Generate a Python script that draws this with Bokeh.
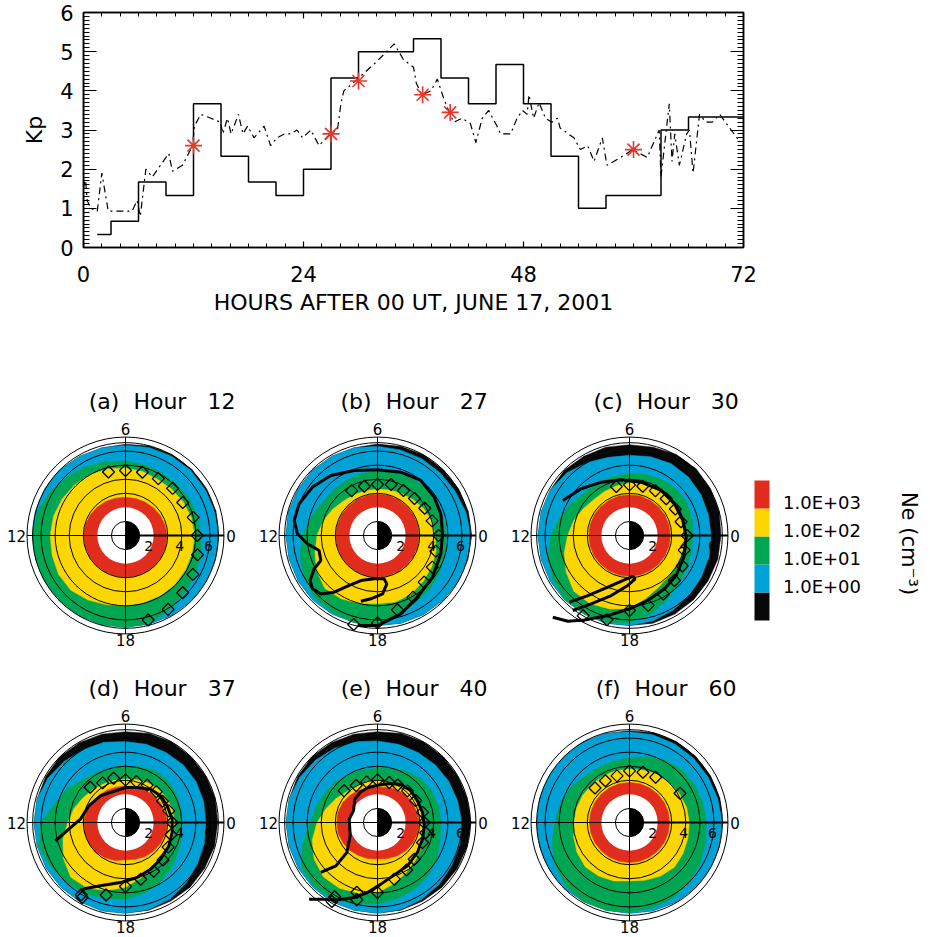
import numpy as np
from bokeh.plotting import figure
from bokeh.models import Range1d, LinearAxis, SingleIntervalTicker
from bokeh.layouts import column, row
from bokeh.embed import file_html
from bokeh.resources import INLINE
from bokeh.core.properties import value

FONT = "DejaVu Sans"
RED = "#e12d1e"
YELLOW = "#fcd600"
GREEN = "#00a651"
BLUE = "#00a2d6"
BLACK = "#080808"
STAR_RED = "#e8372a"

# ---------------- top panel data ----------------
kp_start_hours = [1.5, 3, 6, 9, 12, 15, 18, 21, 24, 27, 30, 33, 36, 39, 42, 45, 48, 51, 54, 57, 60, 63, 66, 69]
kp_end_hours = [3, 6, 9, 12, 15, 18, 21, 24, 27, 30, 33, 36, 39, 42, 45, 48, 51, 54, 57, 60, 63, 66, 69, 72]
kp_values = [0.33, 0.67, 1.67, 1.33, 3.67, 2.33, 1.67, 1.33, 2.0, 4.33, 5.0, 5.0,
             5.33, 4.33, 3.67, 4.67, 3.67, 2.33, 1.0, 1.33, 1.33, 3.0, 3.33, 3.33]

model_hours = [0.0, 0.2, 0.4, 0.8, 1.5, 2.0, 2.7, 3.5, 5.3, 5.85, 6.2, 6.8, 7.5, 8.4, 9.3, 9.7,
               10.8, 11.9, 12.1, 12.8, 13.9, 14.95, 15.2, 15.7, 16.1, 16.9, 17.4, 17.9, 18.6,
               19.7, 20.4, 21.1, 21.9, 22.6, 23.3, 23.9, 24.8, 25.7, 26.9, 27.7, 28.1, 28.4,
               29.9, 32.0, 33.9, 34.9, 36.0, 36.3, 36.9, 37.9, 38.6, 39.3, 40.0, 40.4, 41.3,
               42.2, 42.8, 43.5, 44.2, 45.1, 45.5, 46.6, 47.3, 47.9, 48.4, 48.6, 49.1, 49.7,
               50.4, 51.1, 51.7, 52.0, 53.5, 54.2, 55.0, 55.7, 56.6, 57.1, 58.6, 59.9, 61.5,
               62.8, 63.0, 63.9, 64.2, 64.5, 65.0, 65.8, 66.1, 66.5, 67.2, 67.9, 68.6, 69.4,
               70.5, 71.6]
model_kp = [1.5, 1.8, 1.2, 1.0, 0.93, 1.9, 0.93, 0.93, 0.93, 1.2, 0.8, 2.0, 1.8, 2.1, 2.4, 1.95,
            2.1, 2.6, 3.1, 3.4, 3.3, 3.2, 2.9, 3.3, 2.9, 3.4, 2.9, 3.1, 2.8,
            3.1, 2.6, 2.8, 2.9, 2.9, 3.0, 2.8, 3.0, 2.6, 2.9, 3.0, 3.7, 4.0,
            4.3, 4.75, 5.2, 4.8, 4.6, 4.2, 3.9, 4.0, 4.3, 3.8, 3.4, 3.2, 3.3,
            3.17, 2.68, 3.3, 3.5, 3.1, 2.9, 2.9, 3.3, 3.5, 3.4, 3.9, 3.3, 3.7,
            3.3, 3.2, 3.3, 3.05, 2.8, 2.5, 2.6, 2.2, 2.8, 2.1, 2.3, 2.5, 2.3,
            3.0, 1.8, 3.67, 2.2, 2.9, 2.1, 2.9, 3.0, 1.9, 3.4, 3.2, 3.2, 3.4,
            3.05, 2.7]

star_hours = [12, 27, 30, 37, 40, 60]
star_kp = [2.6, 2.9, 4.25, 3.9, 3.45, 2.5]

# ---------------- polar panel data (L at MLT 0..23) ----------------
MLT_GRID = list(range(24))

a_red = [2.95, 2.9, 2.85, 2.8, 2.75, 2.72, 2.72, 2.75, 2.8, 2.85, 2.9, 2.95, 2.97, 2.97, 2.97, 2.97, 2.97, 2.97, 2.97, 2.97, 2.97, 2.97, 2.97, 2.95]
a_yellow = [4.9, 4.85, 4.75, 4.65, 4.6, 4.7, 4.8, 4.9, 5.0, 5.1, 5.2, 5.3, 5.35, 5.4, 5.5, 5.5, 5.3, 5.1, 5.0, 4.95, 4.95, 4.95, 4.92, 4.9]
a_green = [5.35, 5.3, 5.25, 5.15, 5.15, 5.2, 5.3, 5.45, 5.65, 5.9, 6.2, 6.5, 6.6, 6.6, 6.6, 6.6, 6.58, 6.55, 6.52, 6.45, 6.15, 5.85, 5.7, 5.55]
a_blue = [6.6, 6.58, 6.55, 6.55, 6.52, 6.48, 6.42, 6.45, 6.5, 6.6, 6.62, 6.62, 6.62, 6.6, 6.6, 6.6, 6.58, 6.55, 6.52, 6.52, 6.55, 6.58, 6.6, 6.6]
a_edge = [6.62, 6.66, 6.66, 6.66, 6.64, 6.58, 6.48, 6.45, 6.5, 6.6, 6.62, 6.62, 6.62, 6.6, 6.6, 6.6, 6.58, 6.55, 6.52, 6.52, 6.55, 6.58, 6.6, 6.62]

b_red = [2.95, 2.95, 2.95, 2.95, 2.95, 2.95, 2.95, 2.95, 2.95, 2.95, 2.95, 2.95, 2.97, 2.97, 2.97, 2.97, 2.97, 2.97, 2.97, 2.95, 2.95, 2.95, 2.95, 2.95]
b_yellow = [4.1, 4.0, 3.8, 3.6, 3.45, 3.35, 3.3, 3.3, 3.35, 3.45, 3.7, 4.0, 4.3, 4.6, 5.0, 5.3, 5.2, 5.0, 4.85, 4.9, 4.8, 4.6, 4.45, 4.3]
b_green = [4.9, 4.85, 4.8, 4.8, 4.75, 4.65, 4.6, 4.55, 4.5, 4.5, 4.6, 4.9, 5.35, 5.7, 6.0, 6.3, 6.35, 6.4, 6.4, 5.8, 5.5, 5.3, 5.1, 5.0]
b_blue = [6.65, 6.5, 6.35, 6.3, 6.3, 6.3, 6.35, 6.45, 6.5, 6.55, 6.55, 6.55, 6.5, 6.5, 6.5, 6.5, 6.45, 6.4, 6.4, 6.45, 6.5, 6.55, 6.6, 6.62]
b_edge = [6.7, 6.68, 6.65, 6.62, 6.6, 6.55, 6.5, 6.45, 6.5, 6.55, 6.55, 6.55, 6.5, 6.5, 6.5, 6.5, 6.45, 6.4, 6.4, 6.45, 6.5, 6.55, 6.6, 6.65]

c_red = [2.9] * 24
c_yellow = [3.95, 3.95, 3.95, 3.9, 3.85, 3.8, 3.75, 3.65, 3.6, 3.6, 3.8, 4.1, 4.4, 4.8, 5.2, 5.6, 5.6, 5.4, 5.2, 4.6, 4.2, 4.0, 3.95, 3.95]
c_green = [4.5, 4.6, 4.7, 4.7, 4.6, 4.5, 4.4, 4.35, 4.35, 4.4, 4.7, 5.1, 5.6, 6.0, 6.3, 6.45, 6.45, 6.4, 6.2, 5.8, 5.3, 4.9, 4.7, 4.55]
c_blue = [5.8, 5.8, 5.85, 5.9, 5.9, 5.8, 5.7, 5.75, 6.0, 6.3, 6.5, 6.5, 6.5, 6.5, 6.5, 6.5, 6.45, 6.45, 6.4, 6.3, 6.15, 6.0, 5.9, 5.85]
c_edge = [6.5, 6.6, 6.65, 6.7, 6.65, 6.5, 6.45, 6.5, 6.5, 6.55, 6.5, 6.5, 6.5, 6.5, 6.5, 6.5, 6.45, 6.45, 6.4, 6.45, 6.45, 6.45, 6.45, 6.5]

d_red = [2.95, 2.9, 2.85, 2.75, 2.7, 2.65, 2.6, 2.6, 2.65, 2.7, 2.8, 2.9, 2.95, 3.0, 3.0, 3.0, 2.9, 2.8, 2.65, 2.7, 2.8, 2.85, 2.9, 2.95]
d_yellow = [3.5, 3.45, 3.4, 3.35, 3.25, 3.15, 3.1, 3.1, 3.15, 3.3, 3.5, 3.8, 4.1, 4.6, 5.1, 5.5, 5.4, 5.0, 4.6, 4.1, 3.8, 3.6, 3.55, 3.5]
d_green = [4.0, 4.05, 4.15, 4.25, 4.25, 4.1, 4.0, 4.0, 4.1, 4.3, 4.8, 5.2, 6.0, 6.4, 6.2, 6.0, 5.8, 5.6, 5.45, 5.2, 4.9, 4.6, 4.3, 4.1]
d_blue = [5.7, 5.75, 5.8, 5.8, 5.75, 5.75, 5.75, 5.9, 6.0, 6.15, 6.35, 6.5, 6.5, 6.5, 6.5, 6.5, 6.5, 6.5, 6.45, 6.4, 6.3, 6.1, 5.9, 5.8]
d_edge = [6.55, 6.6, 6.6, 6.6, 6.6, 6.55, 6.45, 6.5, 6.55, 6.6, 6.55, 6.5, 6.5, 6.5, 6.5, 6.5, 6.5, 6.5, 6.45, 6.45, 6.45, 6.5, 6.5, 6.55]

e_red = [2.95, 2.9, 2.85, 2.8, 2.7, 2.6, 2.5, 2.55, 2.65, 2.75, 2.85, 2.9, 2.9, 2.9, 2.85, 2.8, 2.7, 2.65, 2.6, 2.65, 2.75, 2.85, 2.9, 2.95]
e_yellow = [3.3, 3.3, 3.25, 3.2, 3.1, 3.0, 3.0, 3.0, 3.0, 3.1, 3.4, 3.8, 4.3, 4.8, 5.2, 5.45, 5.4, 5.2, 5.0, 4.5, 4.1, 3.8, 3.6, 3.4]
e_green = [4.5, 4.5, 4.45, 4.4, 4.2, 4.0, 3.85, 3.9, 4.0, 4.15, 4.3, 4.5, 4.8, 5.5, 6.3, 6.4, 6.3, 6.0, 5.8, 5.6, 5.4, 5.2, 4.9, 4.6]
e_blue = [6.0, 5.9, 5.85, 5.8, 5.75, 5.75, 5.8, 5.95, 6.1, 6.25, 6.4, 6.5, 6.5, 6.5, 6.5, 6.5, 6.5, 6.45, 6.45, 6.4, 6.3, 6.2, 6.1, 6.05]
e_edge = [6.65, 6.6, 6.6, 6.6, 6.6, 6.55, 6.45, 6.5, 6.55, 6.6, 6.55, 6.5, 6.5, 6.5, 6.5, 6.5, 6.5, 6.45, 6.45, 6.45, 6.45, 6.5, 6.55, 6.6]

f_red = [2.85] * 24
f_yellow = [4.25, 4.2, 4.1, 4.0, 3.95, 3.85, 3.8, 3.8, 3.8, 3.8, 3.85, 3.9, 3.95, 4.1, 4.3, 4.45, 4.4, 4.3, 4.15, 4.25, 4.4, 4.5, 4.4, 4.3]
f_green = [5.45, 5.4, 5.35, 5.3, 5.1, 4.85, 4.6, 4.5, 4.5, 4.6, 4.9, 5.1, 5.3, 5.7, 6.1, 6.4, 6.5, 6.45, 6.4, 6.3, 6.2, 6.0, 5.8, 5.6]
f_blue = [6.6, 6.5, 6.45, 6.45, 6.45, 6.45, 6.45, 6.55, 6.6, 6.6, 6.6, 6.6, 6.6, 6.6, 6.6, 6.6, 6.5, 6.45, 6.45, 6.5, 6.55, 6.6, 6.6, 6.6]
f_edge = [6.62, 6.65, 6.65, 6.65, 6.65, 6.6, 6.52, 6.55, 6.6, 6.6, 6.6, 6.6, 6.6, 6.6, 6.6, 6.6, 6.5, 6.45, 6.45, 6.5, 6.55, 6.6, 6.6, 6.62]

# observed plasmapause (diamonds): MLT, L
a_dia_mlt = [7, 6, 5, 4, 3, 2, 1, 0, 23, 22, 21, 20, 19]
a_dia_L = [4.67, 4.62, 4.65, 4.67, 4.74, 4.7, 4.98, 5.1, 5.3, 5.53, 5.75, 6.06, 6.22]
b_dia_mlt = [8, 7, 6, 5, 4, 3, 2, 1, 0, 23, 22, 21, 20, 19, 18, 17]
b_dia_L = [3.68, 3.62, 3.63, 3.75, 3.69, 3.72, 3.88, 4.02, 4.34, 4.29, 4.5, 4.69, 5.06, 5.47, 6.21, 6.55]
c_dia_mlt = [7, 6, 5, 4, 3, 2, 1, 0, 23, 22, 21, 20, 19, 18, 17, 16]
c_dia_L = [3.61, 3.6, 3.63, 3.68, 3.69, 3.76, 3.79, 4.1, 4.02, 4.33, 4.52, 4.81, 5.14, 5.33, 6.2, 6.58]
d_dia_mlt = [9, 8, 7, 6, 5, 4, 3, 2, 1, 0, 23, 22, 21, 20, 19, 18, 17, 16, 15.9]
d_dia_L = [3.55, 3.25, 3.26, 3.03, 3.01, 3.07, 3.1, 3.03, 3.19, 3.32, 3.35, 3.5, 3.77, 4.0, 4.18, 4.55, 5.33, 6.16, 6.02]
e_dia_mlt = [9.1, 8, 7, 6, 4.9, 4.1, 3.1, 2, 0.85, 0, 23.2, 22.4, 21, 20.1, 19.1, 18, 16.9, 17, 16, 16]
e_dia_L = [3.27, 3.03, 2.99, 3.03, 2.96, 3.03, 3.1, 3.13, 3.28, 3.32, 3.5, 3.5, 3.69, 3.96, 4.2, 4.98, 5.17, 5.68, 6.09, 6.48]
f_dia_mlt = [9, 8, 7, 6, 5, 4, 2]
f_dia_L = [3.47, 3.43, 3.43, 3.67, 3.7, 3.72, 4.15]

# model plasmapause curves, X (Re, toward midnight), Y (Re, toward dawn)
b_curve_x = [-1.18, -0.47, 0.36, 0.66, 0.47, -0.24, -1.18, -2.01, -3.08, -4.03, -4.62, -4.79, -4.50, -4.03, -4.15, -4.98, -5.69, -5.92, -5.57, -4.62, -3.32, -1.66, 0.0, 1.66, 3.08, 4.03, 4.50, 4.62, 4.50, 3.91, 2.84, 1.66, 0.0, -1.42]
b_curve_y = [-4.67, -4.50, -4.15, -3.44, -3.08, -3.08, -3.20, -3.55, -4.03, -4.15, -3.79, -3.20, -2.37, -1.78, -1.07, -0.59, 0.12, 1.07, 2.25, 3.44, 4.27, 4.62, 4.67, 4.50, 3.91, 2.73, 1.54, 0.12, -1.30, -2.96, -4.38, -5.57, -6.40, -6.40]
c_curve1_x = [-4.74, -3.44, -2.01, -0.59, 0.83, 2.25, 3.20, 3.79, 4.03, 3.86, 3.32, 2.49, 1.30, 0.0, -1.54, -3.20, -4.38, -5.45]
c_curve1_y = [2.49, 3.32, 3.79, 3.96, 3.79, 3.20, 2.25, 1.07, -0.12, -1.54, -2.84, -3.79, -4.62, -5.21, -5.69, -6.00, -6.09, -5.81]
c_curve2_x = [-4.03, -2.73, -1.30, -0.12, 0.40, 0.24, -0.36, -1.54, -2.96, -4.27]
c_curve2_y = [-5.33, -4.86, -4.27, -3.55, -3.08, -2.91, -3.15, -3.67, -4.27, -4.74]
d_curve_x = [-4.98, -4.03, -3.20, -2.61, -1.78, -0.71, 0.0, 0.83, 1.78, 2.49, 2.96, 3.32, 3.32, 3.08, 2.49, 1.78, 0.83, -0.36, -1.78, -2.84, -3.20]
d_curve_y = [-1.30, -0.47, 0.24, 1.18, 1.90, 2.25, 2.49, 2.49, 2.37, 1.90, 1.18, 0.24, -0.71, -1.66, -2.61, -3.32, -3.91, -4.27, -4.50, -4.69, -4.86]
e_curve_x = [-4.03, -2.96, -2.18, -1.94, -2.01, -1.71, -1.61, -1.18, -0.66, 0.0, 0.83, 1.66, 2.37, 2.84, 3.20, 3.32, 3.20, 2.84, 2.13, 1.18, 0.24, -0.71, -1.66, -2.84, -3.91, -4.86]
e_curve_y = [-3.55, -3.08, -2.13, -0.95, 0.24, 0.83, 1.66, 2.18, 2.49, 2.65, 2.77, 2.70, 2.25, 1.54, 0.71, -0.24, -1.18, -2.13, -3.08, -3.74, -4.38, -4.98, -5.33, -5.50, -5.45, -5.45]

MODEL_INNER_L = 2.0
GRID_L = [1, 3, 4, 5, 6, 6.6, 7]
radial_labels = ["2", "4", "6"]
mlt_labels = ["6", "18", "12", "0"]
NB = "\u00a0"

cbar_colors = [BLACK, BLUE, GREEN, YELLOW, RED]
cbar_labels = ["1.0E+00", "1.0E+01", "1.0E+02", "1.0E+03"]

# ---------------- top figure ----------------
top = figure(width=930, height=370, x_range=Range1d(0, 72), y_range=Range1d(0, 6),
             output_backend="svg", toolbar_location=None,
             min_border_left=83, min_border_right=187, min_border_top=12, min_border_bottom=123)
top.grid.visible = False
top.outline_line_color = "black"
top.outline_line_width = 1.5

xt = SingleIntervalTicker(interval=24, num_minor_ticks=12)
yt = SingleIntervalTicker(interval=1, num_minor_ticks=10)


def style_x(ax, labels=True):
    ax.ticker = xt
    ax.axis_line_width = 1.5
    ax.axis_line_color = "black"
    ax.major_tick_line_color = "black"
    ax.minor_tick_line_color = "black"
    ax.major_tick_in = 6
    ax.major_tick_out = 0
    ax.minor_tick_in = 4
    ax.minor_tick_out = 0
    ax.major_tick_line_width = 1.2
    ax.major_label_text_font = FONT
    ax.major_label_text_font_size = "21px"
    ax.major_label_text_color = "black"
    if labels:
        ax.major_label_standoff = 18
    else:
        ax.major_label_overrides = {0: "", 24: "", 48: "", 72: ""}
        ax.major_label_standoff = 0


def style_y(ax, labels=True):
    ax.ticker = yt
    ax.axis_line_width = 1.5
    ax.axis_line_color = "black"
    ax.major_tick_line_color = "black"
    ax.minor_tick_line_color = "black"
    ax.major_tick_in = 13
    ax.major_tick_out = 0
    ax.minor_tick_in = 6
    ax.minor_tick_out = 0
    ax.major_tick_line_width = 1.2
    ax.major_label_text_font = FONT
    ax.major_label_text_font_size = "21px"
    ax.major_label_text_color = "black"
    if labels:
        ax.major_label_standoff = 10
    else:
        ax.major_label_overrides = {0: "", 1: "", 2: "", 3: "", 4: "", 5: "", 6: ""}
        ax.major_label_standoff = 0


style_x(top.xaxis[0])
style_y(top.yaxis[0])
top.xaxis.axis_label = "HOURS AFTER 00 UT, JUNE 17, 2001"
top.xaxis.axis_label_text_font = FONT
top.xaxis.axis_label_text_font_size = "22px"
top.xaxis.axis_label_text_font_style = "normal"
top.xaxis.axis_label_text_color = "black"
top.xaxis.axis_label_standoff = 5
top.yaxis.axis_label = "Kp"
top.yaxis.axis_label_text_font = FONT
top.yaxis.axis_label_text_font_size = "22px"
top.yaxis.axis_label_text_font_style = "normal"
top.yaxis.axis_label_text_color = "black"
top.yaxis.axis_label_standoff = 10

ax_top = LinearAxis()
style_x(ax_top, labels=False)
top.add_layout(ax_top, "above")
ax_right = LinearAxis()
style_y(ax_right, labels=False)
top.add_layout(ax_right, "right")

step_x, step_y = [], []
for s, e, v in zip(kp_start_hours, kp_end_hours, kp_values):
    step_x += [s, e]
    step_y += [v, v]
top.line(step_x, step_y, line_color="black", line_width=1.5)
top.line(model_hours, model_kp, line_color="black", line_width=1.2, line_dash="7 4 2 4")
top.scatter(star_hours, star_kp, marker="asterisk", size=17, line_color=STAR_RED, line_width=1.6)

# ---------------- polar panels ----------------
S = 14.07  # pixels per Earth radius
TH = np.radians(np.array(MLT_GRID, dtype=float) * 15.0)


def polar_panel(W, H, cx, cy, title, bands, dia_mlt, dia_L, curves):
    p = figure(width=W, height=H, x_range=Range1d(-cx / S, (W - cx) / S),
               y_range=Range1d(-(H - cy) / S, cy / S), output_backend="svg",
               toolbar_location=None, x_axis_type=None, y_axis_type=None, min_border=0)
    p.outline_line_color = None
    for Ls, col in zip(bands, [BLACK, BLUE, GREEN, YELLOW, RED]):
        L = np.array(Ls, dtype=float)
        p.patch(list(L * np.cos(TH)), list(L * np.sin(TH)), fill_color=col,
                line_color=col, line_width=0.5)
    p.circle(x=[0], y=[0], radius=[MODEL_INNER_L], fill_color="white", line_color=None)
    p.circle(x=[0] * len(GRID_L), y=[0] * len(GRID_L), radius=GRID_L,
             fill_color=None, line_color="black", line_width=1)
    p.wedge(x=[0], y=[0], radius=[1.0], start_angle=[-np.pi / 2], end_angle=[np.pi / 2],
            fill_color="black", line_color="black", line_width=0.5)
    p.segment(x0=[-7, 0], y0=[0, -7], x1=[7, 0], y1=[0, 7], line_color="black", line_width=1)
    p.segment(x0=[1], y0=[0], x1=[7], y1=[0], line_color="black", line_width=2.2)
    p.text(x=[0, 0, -7.75, 7.5], y=[7.6, -7.45, 0, 0], text=mlt_labels,
           text_font=value(FONT), text_font_size="15px", text_align="center",
           text_baseline="middle", text_color="black")
    p.text(x=[1.65, 3.85, 5.9], y=[-0.75, -0.75, -0.75], text=radial_labels,
           text_font=value(FONT), text_font_size="14px", text_align="center",
           text_baseline="middle", text_color="black")
    p.text(x=[2.6], y=[9.5], text=[title], text_font=value(FONT), text_font_size="22px",
           text_align="center", text_baseline="middle", text_color="black")
    for cxs, cys in curves:
        p.line(cxs, cys, line_color="black", line_width=3)
    th = np.radians(np.array(dia_mlt, dtype=float) * 15.0)
    L = np.array(dia_L, dtype=float)
    p.scatter(list(L * np.cos(th)), list(L * np.sin(th)), marker="square", angle=np.pi / 4,
              size=8.5, fill_color=None, line_color="black", line_width=1.3)
    return p


def title_text(letter, hour):
    return "(" + letter + ") " + NB + "Hour " + NB + NB + str(hour)


R1H, R1C = 300, 165
R2H, R2C = 267, 152
pa = polar_panel(252, R1H, 125, R1C, title_text("a", 12),
                 [a_edge, a_blue, a_green, a_yellow, a_red], a_dia_mlt, a_dia_L, [])
pb = polar_panel(252, R1H, 125, R1C, title_text("b", 27),
                 [b_edge, b_blue, b_green, b_yellow, b_red], b_dia_mlt, b_dia_L,
                 [(b_curve_x, b_curve_y)])
pc = polar_panel(248, R1H, 125, R1C, title_text("c", 30),
                 [c_edge, c_blue, c_green, c_yellow, c_red], c_dia_mlt, c_dia_L,
                 [(c_curve1_x, c_curve1_y), (c_curve2_x, c_curve2_y)])
pd = polar_panel(252, R2H, 125, R2C, title_text("d", 37),
                 [d_edge, d_blue, d_green, d_yellow, d_red], d_dia_mlt, d_dia_L,
                 [(d_curve_x, d_curve_y)])
pe = polar_panel(252, R2H, 125, R2C, title_text("e", 40),
                 [e_edge, e_blue, e_green, e_yellow, e_red], e_dia_mlt, e_dia_L,
                 [(e_curve_x, e_curve_y)])
pf = polar_panel(252, R2H, 125, R2C, title_text("f", 60),
                 [f_edge, f_blue, f_green, f_yellow, f_red], f_dia_mlt, f_dia_L, [])

# ---------------- colour bar ----------------
CB_UNIT = 28.0
cb = figure(width=178, height=R1H, x_range=Range1d(0, 178),
            y_range=Range1d(-50 / CB_UNIT, (R1H - 50) / CB_UNIT), output_backend="svg",
            toolbar_location=None, x_axis_type=None, y_axis_type=None, min_border=0)
cb.outline_line_color = None
lev = list(range(len(cbar_colors)))
cb.quad(left=[2] * len(lev), right=[17] * len(lev), bottom=lev, top=[v + 1 for v in lev],
        fill_color=cbar_colors, line_color=None)
cb.text(x=[30.5] * len(cbar_labels), y=[i + 1 + 0.2 for i in range(len(cbar_labels))],
        text=cbar_labels, text_font=value(FONT), text_font_size="18px",
        text_align="left", text_baseline="middle", text_color="black")
cb.text(x=[156], y=[2.75], text=["Ne (cm\u207b\u00b3)"], angle=[-np.pi / 2],
        text_font=value(FONT), text_font_size="21px", text_align="center",
        text_baseline="middle", text_color="black")

layout = column(top, row(pa, pb, pc, cb), row(pd, pe, pf))
open("out.html", "w").write(file_html(layout, INLINE))
